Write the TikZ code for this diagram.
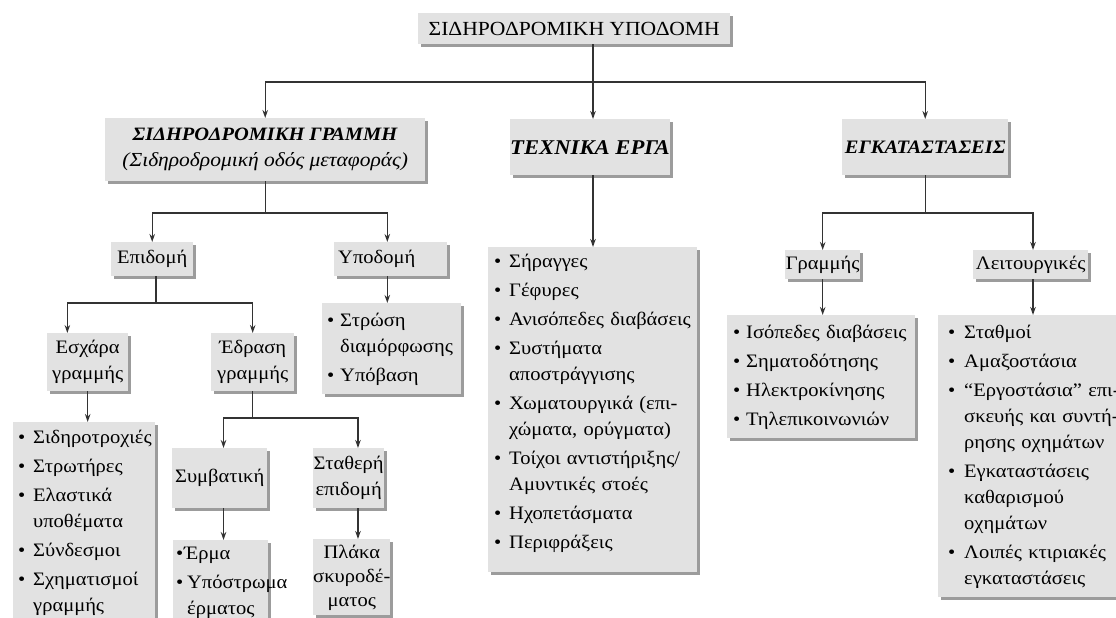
\documentclass[tikz,border=0pt]{standalone}
\usepackage{fontspec}
\setmainfont{Liberation Serif}[FakeStretch=1.08]
\usetikzlibrary{shadows,calc,arrows.meta}
\definecolor{boxfill}{HTML}{E2E2E2}
\definecolor{shadowc}{HTML}{9C9C9C}
\definecolor{linec}{HTML}{333333}
\newlength\bw
\setlength\bw{15pt}
\newcommand\bu{\makebox[\bw][l]{•}}
\newcommand\cn{\hspace*{\bw}}
\newcommand\spr[2]{\makebox[#1][s]{#2}}
\newcommand\lt[1]{\begin{tabular}{@{}l@{}}#1\end{tabular}}
\newcommand\ct[1]{\begin{tabular}{@{}c@{}}#1\end{tabular}}
\begin{document}
\begin{tikzpicture}[x=1pt,y=-1pt,
  box/.style={fill=boxfill, inner sep=0pt, anchor=north west,
    general shadow={fill=shadowc, shadow xshift=3pt, shadow yshift=-3pt},
    font=\fontsize{19}{26}\selectfont},
  lst/.style={box, align=left, inner xsep=6pt, inner ysep=3pt},
  arr/.style={draw=linec, line width=1.4pt, -{Stealth[length=8pt,width=5.5pt]}},
  ln/.style={draw=linec, line width=1.4pt}]
\useasboundingbox (0,0) rectangle (1116,618);
\clip (0,0) rectangle (1116,618);
\fill[white] (0,0) rectangle (1116,618);

% level 0
\node[box, minimum width=312, minimum height=31, font=\fontsize{20}{24}\selectfont] (top) at (418,13) {ΣΙΔΗΡΟΔΡΟΜΙΚΗ ΥΠΟΔΟΜΗ};

% level 1
\node[box, minimum width=320, minimum height=63, align=center] (sg) at (105,118)
  {{\fontsize{18.9}{24}\selectfont\textbf{\textit{ΣΙΔΗΡΟΔΡΟΜΙΚΗ ΓΡΑΜΜΗ}}}\\ {\fontsize{19.9}{24}\selectfont\textit{(Σιδηροδρομική οδός μεταφοράς)}}};
\node[box, minimum width=155, minimum height=56, font=\fontsize{21}{26}\selectfont] (te) at (510,119) {\textbf{\textit{ΤΕΧΝΙΚΑ ΕΡΓΑ}}};
\node[box, minimum width=166, minimum height=56] (eg) at (842,119) {\textbf{\textit{ΕΓΚΑΤΑΣΤΑΣΕΙΣ}}};

% left branch
\node[box, minimum width=82, minimum height=34] (epi) at (111,242) {Επιδομή};
\node[box, text width=105, align=left, inner xsep=4pt, minimum height=34] (ypo) at (334,242) {Υποδομή};
\node[box, minimum width=81, minimum height=58, align=center] (esx) at (47,333) {Εσχάρα\\γραμμής};
\node[box, minimum width=83, minimum height=58, align=center] (edr) at (211,333) {Έδραση\\γραμμής};
\node[lst, text width=129, inner xsep=5pt, inner ysep=5pt] (ypol) at (322,303)
  {\setlength\bw{13pt}\lt{\bu Στρώση\\ \cn διαμόρφωσης\\[3pt] \bu Υπόβαση}};
\node[lst, text width=132, inner xsep=5pt] (esxl) at (13,422)
  {\lt{\bu Σιδηροτροχιές\\[3pt] \bu Στρωτήρες\\[3pt] \bu Ελαστικά\\ \cn υποθέματα\\[3pt] \bu Σύνδεσμοι\\[3pt] \bu Σχηματισμοί\\ \cn γραμμής}};
\node[box, minimum width=95, minimum height=60] (sym) at (172,448) {Συμβατική};
\node[box, minimum width=71, minimum height=60, align=center] (sta) at (313,448) {Σταθερή\\επιδομή};
\node[lst, text width=89, inner xsep=3pt, inner ysep=1pt] (erm) at (173,540)
  {\setlength\bw{11pt}\lt{\makebox[8pt][l]{•}Έρμα\\[3pt] \bu Υπόστρωμα\\ \cn έρματος}};
\node[box, minimum width=71, inner ysep=2pt, font=\fontsize{19}{24}\selectfont] (pla) at (313,539) {\ct{Πλάκα\\σκυροδέ-\\ματος}};

% middle branch
\node[lst, text width=197, inner xsep=6pt, inner ysep=2pt] (tel) at (488,247)
  {\lt{\bu Σήραγγες\\[3pt] \bu Γέφυρες\\[3pt] \bu Ανισόπεδες διαβάσεις\\[3pt] \bu Συστήματα\\ \cn αποστράγγισης\\[3pt]
   \bu \spr{188pt}{Χωματουργικά (επι-}\\ \cn χώματα, ορύγματα)\\[3pt] \bu \spr{188pt}{Τοίχοι αντιστήριξης/}\\ \cn Αμυντικές στοές\\[3pt]
   \bu Ηχοπετάσματα\\[3pt] \bu Περιφράξεις\\[14pt]}};

% right branch
\node[box, minimum width=75, minimum height=29] (gr) at (785,250) {Γραμμής};
\node[box, minimum width=115, minimum height=29] (lei) at (973,250) {Λειτουργικές};
\node[lst, text width=176, inner ysep=5pt] (grl) at (727,315)
  {\setlength\bw{13pt}\lt{\bu Ισόπεδες διαβάσεις\\[3pt] \bu Σηματοδότησης\\[3pt] \bu Ηλεκτροκίνησης\\[3pt] \bu Τηλεπικοινωνιών}};
\node[lst, text width=190, inner xsep=10pt, inner ysep=5pt] (leil) at (938,315)
  {\setlength\bw{16pt}\lt{\bu Σταθμοί\\[3pt] \bu Αμαξοστάσια\\[3pt] \bu \spr{145pt}{“Εργοστάσια” επι-}\\ \cn \spr{145pt}{σκευής και συντή-}\\ \cn ρησης οχημάτων\\[3pt]
   \bu Εγκαταστάσεις\\ \cn καθαρισμού\\ \cn οχημάτων\\[3pt] \bu Λοιπές κτιριακές\\ \cn εγκαταστάσεις}};

% attachment points
\coordinate (esxin) at ($(esx.north west)!0.25!(esx.north east)$);
\coordinate (symin) at ($(sym.north west)!0.54!(sym.north east)$);
\coordinate (symout) at ($(sym.south west)!0.54!(sym.south east)$);
\coordinate (stain) at ($(sta.north west)!0.63!(sta.north east)$);
\coordinate (staout) at ($(sta.south west)!0.63!(sta.south east)$);
\coordinate (ypoin) at ($(ypo.north west)!0.47!(ypo.north east)$);
\coordinate (ypoout) at ($(ypo.south west)!0.47!(ypo.south east)$);
\coordinate (leiin) at ($(lei.north west)!0.52!(lei.north east)$);
\coordinate (leiout) at ($(lei.south west)!0.52!(lei.south east)$);

% connectors
\coordinate (j0) at (593,82);
\draw[arr] (top.south -| j0) -- (te.north -| j0);
\draw[arr] (j0) -| (sg.north);
\draw[arr] (j0) -| (eg.north);

\coordinate (j1) at (sg.south |- 0,213);
\draw[ln] (sg.south) -- (j1);
\draw[arr] (j1) -| (epi.north);
\draw[arr] (j1) -| (ypoin);
\draw[arr] (ypoout) -- (ypoout |- ypol.north);

\coordinate (j2) at (156,303);
\draw[ln] (epi.south -| j2) -- (j2);
\draw[arr] (j2) -| (esxin);
\draw[arr] (j2) -| (edr.north);
\draw[arr] (esx.south) -- (esx.south |- esxl.north);

\coordinate (j3) at (edr.south |- 0,418);
\draw[ln] (edr.south) -- (j3);
\draw[arr] (j3) -| (symin);
\draw[arr] (j3) -| (stain);
\draw[arr] (symout) -- (symout |- erm.north);
\draw[arr] (staout) -- (staout |- pla.north);

\draw[arr] (te.south -| j0) -- (tel.north -| j0);

\coordinate (j4) at (eg.south |- 0,213);
\draw[ln] (eg.south) -- (j4);
\draw[arr] (j4) -| (gr.north);
\draw[arr] (j4) -| (leiin);
\draw[arr] (gr.south) -- (gr.south |- grl.north);
\draw[arr] (leiout) -- (leiout |- leil.north);
\end{tikzpicture}
\end{document}
